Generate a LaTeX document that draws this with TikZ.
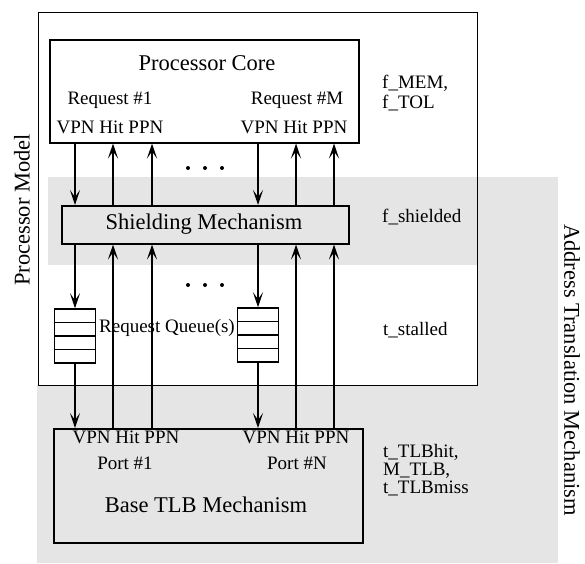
\documentclass[tikz,border=0pt]{standalone}
\usepackage{fontspec}
\setmainfont{Liberation Serif}
\usetikzlibrary{arrows.meta,calc}
\begin{document}
\begin{tikzpicture}[x=1pt,y=-1pt,
  shadearea/.style={fill=black!10},
  box/.style={draw,line width=1.5pt,inner sep=0pt,anchor=north west},
  outerbox/.style={draw,line width=1.1pt,inner sep=0pt,anchor=north west},
  queue/.style={draw,fill=white,line width=1.5pt,inner sep=0pt,minimum width=41pt,minimum height=54pt,
    path picture={\foreach \f in {0.25,0.5,0.75}
      \draw[line width=1.5pt] ($(path picture bounding box.north west)!\f!(path picture bounding box.south west)$) --
        ($(path picture bounding box.north east)!\f!(path picture bounding box.south east)$);}},
  arr/.style={line width=1.7pt,-{Stealth[length=15pt,width=10pt,inset=7pt]}},
  big/.style={font=\fontsize{22.5}{26}\selectfont,inner sep=0pt},
  small/.style={font=\fontsize{19}{20}\selectfont,inner sep=0pt},
  dot/.style={circle,fill=black,inner sep=0pt,minimum size=4pt}
]
\useasboundingbox (0,0) rectangle (585,563);
% shaded address translation area
\fill[shadearea] (48,177) rectangle (477,265);
\fill[shadearea] (477,177) rectangle (558,563);
\fill[shadearea] (37,385) rectangle (558,563);

% boxes
\node[outerbox,minimum width=439pt,minimum height=373pt] (pm) at (38,12) {};
\node[box,minimum width=309pt,minimum height=103pt] (core) at (49,39) {};
\node[box,minimum width=287pt,minimum height=38pt] (shield) at (61,205) {};
\node[box,minimum width=309pt,minimum height=114pt] (tlb) at (53,428) {};
\node[queue] (q1) at (75,336) {};
\node[queue] (q2) at (258,335) {};

% column coordinates
\coordinate (c1) at (75,0);
\coordinate (c2) at (113,0);
\coordinate (c3) at (152,0);
\coordinate (c4) at (258,0);
\coordinate (c5) at (296,0);
\coordinate (c6) at (334,0);

% connectors core <-> shielding
\draw[arr] (core.south -| c1) -- (shield.north -| c1);
\draw[arr] (shield.north -| c2) -- (core.south -| c2);
\draw[arr] (shield.north -| c3) -- (core.south -| c3);
\draw[arr] (core.south -| c4) -- (shield.north -| c4);
\draw[arr] (shield.north -| c5) -- (core.south -| c5);
\draw[arr] (shield.north -| c6) -- (core.south -| c6);
% shielding -> queues
\draw[arr] (shield.south -| c1) -- (q1.north);
\draw[arr] (shield.south -| c4) -- (q2.north);
% queues -> TLB
\draw[arr] (q1.south) -- (tlb.north -| q1.south);
\draw[arr] (q2.south) -- (tlb.north -| q2.south);
% TLB -> shielding
\draw[arr] (tlb.north -| c2) -- (shield.south -| c2);
\draw[arr] (tlb.north -| c3) -- (shield.south -| c3);
\draw[arr] (tlb.north -| c5) -- (shield.south -| c5);
\draw[arr] (tlb.north -| c6) -- (shield.south -| c6);

% dots
\node[dot] (d1) at (188,168) {};
\node[dot] (d2) at (205,168) {};
\node[dot] (d3) at (222,168) {};
\node[dot] (d4) at (188,285) {};
\node[dot] (d5) at (205,285) {};
\node[dot] (d6) at (222,285) {};

% texts
\node[big] (tcore) at (207,63) {Processor Core};
\node[small] (r1) at (110,100) {Request \#1};
\node[small] (v1) at (110,127) {VPN Hit PPN};
\node[small] (rm) at (297,100) {Request \#M};
\node[small] (vm) at (294,127) {VPN Hit PPN};
\node[big] (tshield) at (204,224) {Shielding Mechanism};
\node[small] (tq) at (167,328) {Request Queue(s)};
\node[small] (p1v) at (126,437) {VPN Hit PPN};
\node[small] (p1) at (125,463) {Port \#1};
\node[small] (pnv) at (296,437) {VPN Hit PPN};
\node[small] (pn) at (297,463) {Port \#N};
\node[big] (ttlb) at (206,505) {Base TLB Mechanism};

\node[small,anchor=west,align=left,font=\fontsize{19}{20}\selectfont] (fm) at (382,93) {f\_MEM,\\f\_TOL};
\node[small,anchor=west] (fs) at (382,217) {f\_shielded};
\node[small,anchor=west] (ts) at (383,330) {t\_stalled};
\node[small,anchor=west,align=left,font=\fontsize{19}{18.3}\selectfont] (tt) at (383,470) {t\_TLBhit,\\M\_TLB,\\t\_TLBmiss};

\node[big,rotate=90] (lpm) at (22,210) {Processor Model};
\node[big,rotate=-90] (lat) at (572,370) {Address Translation Mechanism};
\end{tikzpicture}
\end{document}
